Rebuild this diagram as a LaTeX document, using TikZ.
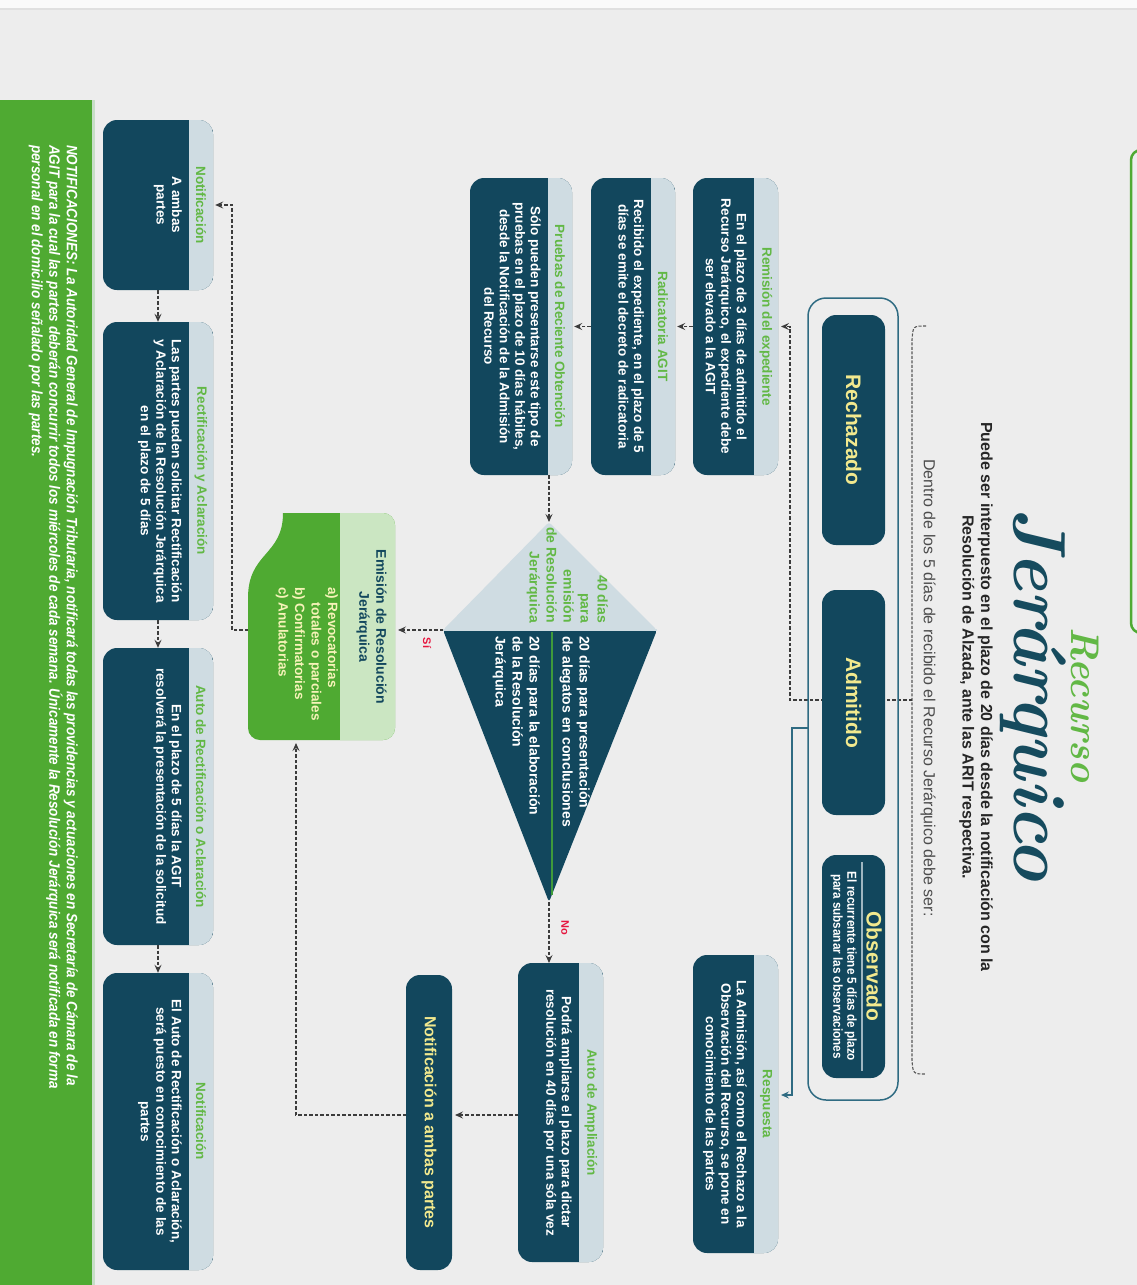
\documentclass[tikz,border=0pt]{standalone}
\usepackage{fontspec}
\setmainfont{Liberation Sans}
\newfontfamily\ttlfont[FakeStretch=0.97]{Latin Modern Roman}
\newfontfamily\narrowA[FakeStretch=0.9]{Liberation Sans}
\usetikzlibrary{arrows.meta}
\definecolor{bgc}{HTML}{EDEDED}
\definecolor{tealc}{HTML}{12475D}
\definecolor{hdrc}{HTML}{CFDCE2}
\definecolor{gtit}{HTML}{62B845}
\definecolor{yelc}{HTML}{F2E98E}
\definecolor{gbar}{HTML}{4FAA32}
\definecolor{emih}{HTML}{CBE6C2}
\definecolor{redc}{HTML}{E5173F}
\definecolor{dashc}{HTML}{3C3C3C}
\definecolor{framec}{HTML}{2F6B82}
\definecolor{ttlc}{HTML}{164B5E}
\definecolor{pyel}{HTML}{F6F3B8}
\definecolor{sepg}{HTML}{3F9B3B}
\definecolor{sepl}{HTML}{9FB6C0}
\tikzset{
  tealbox/.style={fill=tealc, rounded corners=14pt, inner sep=0pt},
  hdrtext/.style={text=gtit, font=\fontsize{13.5}{15.5}\selectfont\bfseries, inner sep=0pt},
  bodytext/.style={text=white, font=\fontsize{13.5}{15.5}\selectfont\bfseries, align=center, inner sep=0pt},
  bigtext/.style={text=yelc, font=\fontsize{21}{24}\selectfont\bfseries},
  kitetext/.style={font=\fontsize{14}{17}\selectfont\bfseries, inner sep=0pt},
  dflow/.style={draw=dashc, line width=1.2pt, dash pattern=on 3.5pt off 2pt, -{Stealth[length=8pt,width=7pt,inset=3pt]}},
  sflow/.style={draw=framec, line width=1.4pt, -{Stealth[length=8pt,width=7pt,inset=3pt]}},
}
\newcommand{\hdrbox}[7]{%
  \node[tealbox, minimum width={(#3)-(#2)}, minimum height={(#5)-(#4)}] (#1) at ({((#2)+(#3))/2},{((#4)+(#5))/2}) {};
  \begin{scope}
    \clip[rounded corners=14pt] (#2,#4) rectangle (#3,#5);
    \fill[hdrc] (#2,{(#5)-24}) rectangle (#3,#5);
  \end{scope}
  \node[hdrtext] (#1t) at ({((#2)+(#3))/2},{(#5)-12}) {#6};
  \node[bodytext, anchor=north] (#1b) at ({((#2)+(#3))/2},{(#5)-31}) {#7};
}
\begin{document}
\begin{tikzpicture}[x=1pt,y=1pt]
\useasboundingbox (0,0) rectangle (1137,-1285);
\fill[bgc] (0,0) rectangle (1137,-1285);
\begin{scope}[rotate=-90, transform shape]
  % top band and side elements
  \fill[white!96!gray] (0,0) rectangle (8,1137);
  \fill[black!12] (8,0) rectangle (10,1137);
  \fill[gbar] (100,0) rectangle (1285,92);
  \fill[green!25!gray!35] (100,92) rectangle (1285,95);
  \draw[gbar, line width=2.5pt, rounded corners=10pt] (150,1131) rectangle (633,1170);
  % title
  \node[text=gtit, font=\ttlfont\fontsize{40}{40}\selectfont\bfseries\itshape, anchor=base, inner sep=0pt] (rec) at (705,1071) {Recurso};
  \node[text=ttlc, font=\ttlfont\fontsize{74}{74}\selectfont\bfseries\itshape, anchor=base, inner sep=0pt] (jer) at (695,1014) {Jerárquico};
  \node[font=\fontsize{16}{18.5}\selectfont\bfseries, align=center, text=black!85] (sub) at (697,976) {Puede ser interpuesto en el plazo de 20 días desde la notificación con la\\Resolución de Alzada, ante las ARIT respectiva.};
  \node[font=\fontsize{16}{18}\selectfont, text=black!70] (dentro) at (688,928) {Dentro de los 5 días de recibido el Recurso Jerárquico debe ser:};
  % bracket
  \draw[dashc!85, line width=1.1pt, dash pattern=on 3pt off 1.5pt] (326,926) .. controls (326,913) .. (340,912) -- (1060,912) .. controls (1074,913) .. (1074,926);
  \coordinate (brc) at (700,912);
  \coordinate (remin) at (326.5,781);
  % bracket connector drawn below the state boxes
  \draw[dflow] (brc) -- (700,790) -- (326.5,790) -- (remin);
  % frame with three states
  \node[draw=framec, line width=1.5pt, rounded corners=18pt, minimum width=802, minimum height=90, inner sep=0pt] (frame) at (699,853) {};
  \node[tealbox, bigtext, minimum width=230, minimum height=63] (rech) at (430,853.5) {Rechazado};
  \node[tealbox, bigtext, minimum width=225, minimum height=63] (adm) at (702.5,853.5) {Admitido};
  \node[tealbox, minimum width=223, minimum height=63] (obs) at (966.5,853.5) {};
  \node[bigtext, inner sep=0pt] (obst) at (966.5,874) {Observado};
  \draw[sepl, line width=1.5pt] (862,862) -- (1071,862);
  \node[text=white, font=\narrowA\fontsize{13}{14}\selectfont\bfseries, align=center, anchor=north, inner sep=0pt] (obsb) at (966.5,857) {El recurrente tiene 5 días de plazo\\para subsanar las observaciones};
  % boxes column
  \hdrbox{rem}{178}{475}{693}{778}{Remisión del expediente}{En el plazo de 3 días de admitido el\\Recurso Jerárquico, el expediente debe\\ser elevado a la AGIT}
  \hdrbox{rad}{178}{475}{591}{675}{Radicatoria AGIT}{Recibido el expediente, en el plazo de 5\\días se emite el decreto de radicatoria}
  \hdrbox{pru}{178}{475}{470}{572}{Pruebas de Reciente Obtención}{Sólo pueden presentarse este tipo de\\pruebas en el plazo de 10 días hábiles,\\desde la Notificación de la Admisión\\del Recurso}
  \hdrbox{res}{955}{1253}{693}{778}{Respuesta}{La Admisión, así como el Rechazo a la\\Observación del Recurso, se pone en\\conocimiento de las partes}
  \hdrbox{aam}{963}{1262}{518}{603}{Auto de Ampliación}{Podrá ampliarse el plazo para dictar\\resolución en 40 días por una sóla vez}
  \node[tealbox, minimum width=295, minimum height=46, text=yelc, font=\fontsize{16}{18}\selectfont\bfseries] (nab) at (1122.5,429) {Notificación a ambas partes};
  % bottom row
  \hdrbox{nta}{120}{290}{103}{213}{Notificación}{A ambas\\partes}
  \hdrbox{rect}{322}{620}{103}{213}{Rectificación y Aclaración}{Las partes pueden solicitar Rectificación\\y Aclaración de la Resolución Jerárquica\\en el plazo de 5 días}
  \hdrbox{arec}{648}{945}{103}{213}{Auto de Rectificación o Aclaración}{En el plazo de 5 días la AGIT\\resolverá la presentación de la solicitud}
  \hdrbox{ntb}{973}{1270}{103}{213}{Notificación}{El Auto de Rectificación o Aclaración,\\será puesto en conocimiento de las\\partes}
  % kite
  \coordinate (kl) at (522,549);
  \coordinate (kt) at (630,657);
  \coordinate (kb) at (630,443);
  \coordinate (kr) at (902,549);
  \fill[hdrc, rounded corners=3pt] (kl) -- (kt) -- (kb) -- cycle;
  \fill[tealc, rounded corners=3pt] (kt) -- (kr) -- (kb) -- cycle;
  \fill[hdrc] (629,443) rectangle (631,657);
  \draw[sepg, line width=2pt] (632,552) -- (895,552);
  \node[kitetext, text=gtit, align=right, anchor=north east] (kta) at (623,608) {40 días\\para\\emisión\\de Resolución\\Jerárquica};
  \node[kitetext, text=white, align=left, anchor=north west] (ktb) at (636,590) {20 días para presentación\\de alegatos en conclusiones};
  \node[kitetext, text=white, align=left, anchor=north west] (ktc) at (636,540) {20 días para la elaboración\\de la Resolución\\Jerárquica};
  % emision
  \fill[gbar, rounded corners=12pt] (513,300) -- (513,395) -- (740,395) -- (740,248) -- (640,248) [sharp corners] -- (598,248) .. controls (552,248) and (556,283) .. (513,283) -- cycle;
  \begin{scope}
    \clip (505,340) rectangle (750,400);
    \fill[emih, rounded corners=12pt] (513,300) rectangle (740,395);
  \end{scope}
  \node[inner sep=0pt, minimum width=227, minimum height=147] (emi) at (626.5,321.5) {};
  \node[text=tealc, font=\fontsize{14}{17}\selectfont\bfseries, align=center, inner sep=0pt] (emit) at (627,371.5) {Emisión de Resolución\\Jerárquica};
  \node[text=pyel, font=\fontsize{13.5}{16.5}\selectfont\bfseries, align=left, anchor=north west, inner sep=0pt] (emib) at (587,338) {a) Revocatorias\\\phantom{a) }totales o parciales\\b) Confirmatorias\\c) Anulatorias};
  % labels
  \node[text=redc, font=\fontsize{11}{12}\selectfont\bfseries] (si) at (643,427) {Sí};
  \node[text=redc, font=\fontsize{11}{12}\selectfont\bfseries] (no) at (928,565) {No};
  % notes
  \node[text=white, font=\narrowA\fontsize{15}{17.5}\selectfont\bfseries\itshape, align=left, anchor=north west, inner sep=0pt] (notes) at (145,78) {NOTIFICACIONES: La Autoridad General de Impugnación Tributaria, notificará todas las providencias y actuaciones en Secretaría de Cámara de la\\AGIT para la cual las partes deberán concurrir todos los miércoles de cada semana. Únicamente la Resolución Jerárquica será notificada en forma\\personal en el domicilio señalado por las partes.};
  % connector coordinates
  \coordinate (admout) at (728,808);
  \coordinate (resin) at (1095,781);
  \coordinate (pruout) at (475,549);
  \coordinate (emiin) at (630,398);
  \coordinate (aamin) at (963,549);
  \coordinate (aamout) at (1115,518);
  \coordinate (nabin) at (1115,455);
  \coordinate (nabout) at (1115,406);
  \coordinate (emiinr) at (743,296);
  \coordinate (emiout) at (630,248);
  % connectors
  \draw[sflow] (admout) -- (728,792) -- (1095,792) -- (resin);
  \draw[dflow, shorten >=2pt] (rem.south) -- (rad.north);
  \draw[dflow, shorten >=2pt] (rad.south) -- (pru.north);
  \draw[dflow] (pruout) -- (kl);
  \draw[dflow] (kb) -- (emiin);
  \draw[dflow] (kr) -- (aamin);
  \draw[dflow] (aamout) -- (nabin);
  \draw[dflow] (nabout) -- (1115,296) -- (emiinr);
  \draw[dflow, shorten >=2pt] (emiout) -- (630,232) -- (205,232) -- (nta.north);
  \draw[dflow] (nta.east) -- (rect.west);
  \draw[dflow] (rect.east) -- (arec.west);
  \draw[dflow] (arec.east) -- (ntb.west);
\end{scope}
\end{tikzpicture}
\end{document}
